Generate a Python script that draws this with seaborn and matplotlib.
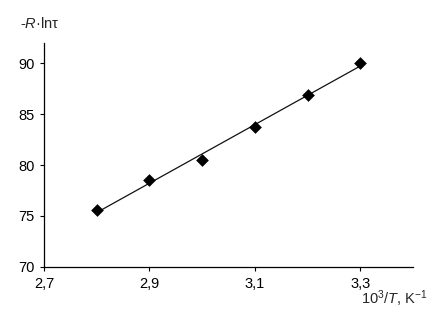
import matplotlib
matplotlib.use("Agg")
import matplotlib.pyplot as plt
import seaborn as sns
import pandas as pd

# data
inv_T = [2.8, 2.9, 3.0, 3.1, 3.2, 3.3]
r_ln_tau = [75.6, 78.5, 80.45, 83.7, 86.9, 90.05]
x_ticks = [2.7, 2.9, 3.1, 3.3]
x_tick_labels = ["2,7", "2,9", "3,1", "3,3"]
y_ticks = [70, 75, 80, 85, 90]

sns.set_style("ticks")
plt.rcParams["font.family"] = ["Liberation Sans", "DejaVu Sans"]
plt.rcParams["mathtext.fontset"] = "custom"
plt.rcParams["mathtext.it"] = "Liberation Sans:italic"
plt.rcParams["mathtext.rm"] = "Liberation Sans"

df = pd.DataFrame({"x": inv_T, "y": r_ln_tau})

fig = plt.figure(figsize=(4.45, 3.2), dpi=100)
ax = fig.add_axes([0.099, 0.166, 0.829, 0.700])

sns.regplot(data=df, x="x", y="y", ax=ax, ci=None, marker="D",
            scatter_kws={"color": "black", "s": 42, "alpha": 1, "zorder": 3,
                         "linewidths": 0},
            line_kws={"color": "#111111", "lw": 0.9})

ax.set_xlim(2.7, 3.4)
ax.set_ylim(70, 92)
ax.set_xticks(x_ticks)
ax.set_xticklabels(x_tick_labels)
ax.set_yticks(y_ticks)
ax.tick_params(labelsize=10.5, length=3, width=0.8, colors="black")
ax.tick_params(axis="y", pad=4)
ax.tick_params(axis="x", pad=4)
for s in ["top", "right"]:
    ax.spines[s].set_visible(False)
for s in ["left", "bottom"]:
    ax.spines[s].set_linewidth(0.9)
    ax.spines[s].set_color("black")

ax.set_xlabel("")
ax.set_ylabel("")
fig.text(0.045, 0.925, r"-$\mathit{R}$·lnτ", fontsize=10.5, va="center", ha="left")
fig.text(0.96, 0.068, r"10$^3$/$\mathit{T}$, K$^{-1}$", fontsize=10.5, va="center", ha="right")

fig.savefig("out.png", dpi=100)
